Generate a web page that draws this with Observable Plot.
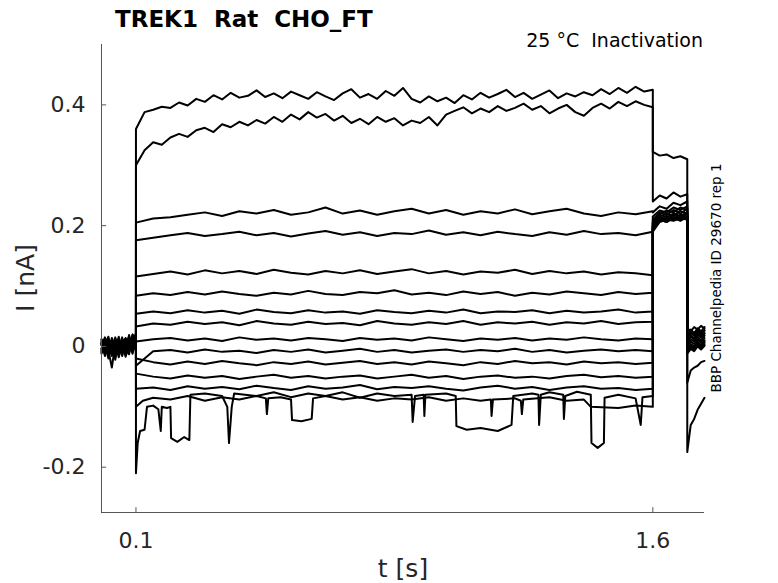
<!DOCTYPE html>
<html><head><meta charset="utf-8">
<script src="https://cdn.jsdelivr.net/npm/d3@7"></script>
<script src="https://cdn.jsdelivr.net/npm/@observablehq/plot@0.6"></script>
<style>body{margin:0;background:#fff;} #chart{width:778px;height:583px;}</style>
</head><body><div id="chart"></div>
<script>
// time grids (s)
const tPre = [0,0.01,0.02,0.03,0.04,0.05,0.06,0.07,0.08,0.09,0.1];
const tStepFine = [0.1,0.125,0.15,0.175,0.2,0.225,0.25,0.275,0.3,0.325,0.35,0.375,0.4,0.425,0.45,0.475,0.5,0.525,0.55,0.575,0.6,0.625,0.65,0.675,0.7,0.725,0.75,0.775,0.8,0.825,0.85,0.875,0.9,0.925,0.95,0.975,1.0,1.025,1.05,1.075,1.1,1.125,1.15,1.175,1.2,1.225,1.25,1.275,1.3,1.325,1.35,1.375,1.4,1.425,1.45,1.475,1.5,1.525,1.55,1.575,1.6];
const tStep = [0.1,0.15,0.2,0.25,0.3,0.35,0.4,0.45,0.5,0.55,0.6,0.65,0.7,0.75,0.8,0.85,0.9,0.95,1.0,1.05,1.1,1.15,1.2,1.25,1.3,1.35,1.4,1.45,1.5,1.55,1.6];
const tTest = [1.6,1.62,1.64,1.66,1.68,1.7];
const tPost = [1.7,1.71,1.72,1.73,1.74,1.75];

// currents (nA) at holding, before the step (15 sweeps)
const preI = [
 [0.005,-0.008,0.012,-0.004,0.009,-0.011,0.006,0.014,-0.002,0.018,0.008],
 [-0.006,0.01,-0.012,0.004,-0.015,0.007,-0.003,0.011,-0.009,0.02,0.012],
 [0.012,-0.003,0.006,-0.014,0.002,0.013,-0.007,0.004,0.016,0.006,0.022],
 [-0.012,0.004,-0.02,0.008,-0.006,-0.013,0.01,-0.005,0.012,0.003,0.014],
 [0.002,0.015,-0.006,-0.035,0.004,-0.009,0.012,-0.014,0.007,0.015,0.01],
 [0.009,-0.013,0.003,0.01,-0.017,0.005,-0.011,0.008,-0.004,0.012,0.005],
 [-0.003,0.006,-0.009,0.014,0.001,-0.006,0.015,-0.01,0.019,-0.002,0.016],
 [0.007,-0.016,0.011,-0.005,0.013,0.002,-0.014,0.006,-0.008,0.01,-0.004],
 [-0.01,0.003,0.016,-0.008,0.006,-0.018,0.004,0.013,0.001,0.008,0.011],
 [0.004,-0.005,-0.012,0.009,-0.022,0.011,-0.002,-0.012,0.014,-0.006,0.004],
 [0.011,0.006,-0.004,-0.011,0.008,-0.003,0.009,-0.006,-0.013,0.011,-0.002],
 [-0.008,0.013,0.005,0.002,-0.01,0.016,-0.008,0.003,0.009,-0.009,0.007],
 [0.003,-0.011,0.009,-0.016,0.011,-0.005,0.005,-0.017,0.005,0.014,0.013],
 [-0.004,0.008,-0.015,0.006,-0.003,0.009,-0.016,0.01,-0.006,0.004,-0.006],
 [0.006,-0.002,0.002,-0.01,0.015,-0.014,0.003,0.001,0.011,-0.012,0.009]
];

// sweeps 1-2 during the conditioning step (on tStepFine)
const stepTopI = [
 [0.36,0.388,0.392,0.397,0.395,0.404,0.399,0.41,0.405,0.416,0.409,0.42,0.412,0.415,0.424,0.413,0.419,0.411,0.422,0.416,0.41,0.421,0.414,0.408,0.419,0.426,0.412,0.418,0.41,0.423,0.415,0.428,0.41,0.404,0.414,0.406,0.412,0.403,0.416,0.409,0.42,0.412,0.418,0.425,0.413,0.42,0.41,0.417,0.424,0.411,0.419,0.414,0.421,0.416,0.426,0.418,0.428,0.42,0.43,0.422,0.425],
 [0.3,0.325,0.338,0.334,0.346,0.352,0.347,0.358,0.362,0.355,0.368,0.363,0.372,0.366,0.375,0.369,0.38,0.372,0.384,0.376,0.388,0.379,0.385,0.374,0.382,0.37,0.377,0.368,0.38,0.372,0.378,0.366,0.374,0.37,0.38,0.366,0.384,0.39,0.396,0.386,0.394,0.388,0.398,0.39,0.395,0.402,0.392,0.398,0.386,0.394,0.4,0.388,0.382,0.395,0.402,0.394,0.405,0.398,0.406,0.4,0.396]
];

// sweeps 3-13 during the conditioning step (on tStep)
const stepI = [
 [0.205,0.212,0.214,0.218,0.222,0.216,0.224,0.22,0.226,0.218,0.222,0.23,0.22,0.225,0.218,0.224,0.228,0.22,0.226,0.218,0.224,0.22,0.227,0.219,0.224,0.228,0.22,0.216,0.222,0.219,0.224],
 [0.176,0.18,0.184,0.188,0.183,0.186,0.19,0.184,0.188,0.182,0.187,0.191,0.185,0.189,0.183,0.188,0.186,0.192,0.185,0.189,0.184,0.19,0.186,0.183,0.189,0.185,0.191,0.186,0.188,0.184,0.19],
 [0.116,0.12,0.124,0.119,0.126,0.121,0.125,0.12,0.127,0.122,0.119,0.125,0.121,0.126,0.12,0.124,0.128,0.121,0.125,0.119,0.124,0.122,0.127,0.12,0.125,0.121,0.124,0.119,0.123,0.121,0.118],
 [0.084,0.088,0.085,0.09,0.086,0.091,0.087,0.084,0.089,0.086,0.092,0.087,0.085,0.09,0.088,0.093,0.086,0.089,0.085,0.091,0.087,0.09,0.084,0.089,0.086,0.091,0.088,0.085,0.09,0.087,0.089],
 [0.054,0.058,0.055,0.06,0.056,0.059,0.054,0.061,0.057,0.055,0.06,0.056,0.058,0.054,0.06,0.057,0.055,0.059,0.056,0.061,0.055,0.058,0.057,0.06,0.055,0.059,0.056,0.058,0.061,0.056,0.058],
 [0.033,0.038,0.036,0.041,0.037,0.04,0.035,0.042,0.038,0.036,0.041,0.037,0.039,0.035,0.042,0.038,0.036,0.04,0.037,0.042,0.036,0.04,0.038,0.041,0.036,0.04,0.038,0.042,0.037,0.04,0.041],
 [0.008,0.012,0.014,0.01,0.013,0.009,0.015,0.011,0.013,0.01,0.014,0.012,0.009,0.014,0.011,0.013,0.01,0.015,0.012,0.009,0.013,0.011,0.014,0.01,0.013,0.011,0.015,0.012,0.01,0.013,0.012],
 [-0.032,-0.008,-0.006,-0.01,-0.005,-0.009,-0.007,-0.011,-0.006,-0.009,-0.005,-0.01,-0.007,-0.004,-0.009,-0.006,-0.01,-0.007,-0.005,-0.009,-0.006,-0.008,-0.004,-0.009,-0.006,-0.01,-0.007,-0.005,-0.008,-0.006,-0.008],
 [-0.02,-0.026,-0.03,-0.025,-0.029,-0.024,-0.028,-0.031,-0.026,-0.029,-0.025,-0.03,-0.027,-0.024,-0.029,-0.026,-0.03,-0.025,-0.028,-0.031,-0.026,-0.029,-0.024,-0.028,-0.026,-0.03,-0.025,-0.028,-0.026,-0.029,-0.027],
 [-0.045,-0.05,-0.053,-0.048,-0.052,-0.049,-0.054,-0.05,-0.047,-0.052,-0.049,-0.053,-0.05,-0.048,-0.053,-0.05,-0.047,-0.052,-0.049,-0.054,-0.05,-0.048,-0.052,-0.05,-0.053,-0.049,-0.047,-0.051,-0.049,-0.052,-0.05],
 [-0.07,-0.068,-0.072,-0.066,-0.07,-0.067,-0.071,-0.065,-0.069,-0.072,-0.066,-0.07,-0.068,-0.064,-0.071,-0.067,-0.069,-0.066,-0.07,-0.073,-0.068,-0.065,-0.07,-0.067,-0.072,-0.068,-0.066,-0.07,-0.069,-0.072,-0.07]
];

// sweeps 14 and 15 during the step, with their downward jumps: [t, I]
const stepSweep14 = [[0.1,-0.1],[0.12,-0.09],[0.15,-0.085],[0.2,-0.088],[0.25,-0.082],[0.3,-0.09],[0.35,-0.084],[0.4,-0.088],[0.45,-0.082],[0.477,-0.086],[0.48,-0.112],[0.484,-0.086],[0.52,-0.084],[0.55,-0.088],[0.553,-0.122],[0.58,-0.124],[0.61,-0.12],[0.614,-0.086],[0.65,-0.082],[0.7,-0.088],[0.75,-0.084],[0.8,-0.09],[0.85,-0.086],[0.9,-0.088],[0.95,-0.084],[1.0,-0.09],[1.05,-0.086],[1.1,-0.09],[1.13,-0.088],[1.132,-0.115],[1.136,-0.088],[1.2,-0.086],[1.217,-0.09],[1.22,-0.112],[1.224,-0.088],[1.3,-0.084],[1.35,-0.09],[1.4,-0.088],[1.42,-0.1],[1.5,-0.102],[1.55,-0.098],[1.6,-0.1]];
const stepSweep15 = [[0.1,-0.21],[0.105,-0.16],[0.112,-0.14],[0.125,-0.138],[0.132,-0.1],[0.15,-0.098],[0.165,-0.104],[0.172,-0.14],[0.175,-0.1],[0.19,-0.102],[0.2,-0.1],[0.202,-0.152],[0.22,-0.158],[0.24,-0.15],[0.255,-0.155],[0.258,-0.08],[0.3,-0.078],[0.35,-0.082],[0.365,-0.1],[0.37,-0.16],[0.378,-0.1],[0.385,-0.078],[0.45,-0.082],[0.5,-0.076],[0.55,-0.084],[0.6,-0.078],[0.65,-0.082],[0.7,-0.076],[0.75,-0.085],[0.8,-0.078],[0.85,-0.082],[0.9,-0.08],[0.903,-0.125],[0.91,-0.082],[0.935,-0.08],[0.937,-0.115],[0.94,-0.08],[1.0,-0.078],[1.028,-0.082],[1.03,-0.132],[1.06,-0.138],[1.1,-0.135],[1.15,-0.14],[1.19,-0.13],[1.195,-0.082],[1.25,-0.078],[1.268,-0.08],[1.27,-0.13],[1.275,-0.08],[1.3,-0.076],[1.34,-0.08],[1.342,-0.12],[1.346,-0.082],[1.38,-0.075],[1.42,-0.08],[1.422,-0.16],[1.44,-0.168],[1.458,-0.16],[1.46,-0.085],[1.5,-0.08],[1.55,-0.086],[1.565,-0.13],[1.57,-0.084],[1.6,-0.082]];

// test pulse currents (nA) on tTest
const testI = [
 [0.322,0.316,0.318,0.312,0.315,0.31],
 [0.24,0.25,0.245,0.255,0.248,0.252],
 [0.222,0.232,0.228,0.238,0.234,0.24],
 [0.215,0.225,0.222,0.23,0.226,0.232],
 [0.21,0.222,0.218,0.226,0.22,0.228],
 [0.205,0.218,0.214,0.22,0.216,0.222],
 [0.2,0.214,0.21,0.218,0.213,0.219],
 [0.198,0.212,0.208,0.215,0.21,0.217],
 [0.196,0.21,0.206,0.213,0.208,0.215],
 [0.194,0.208,0.212,0.21,0.214,0.212],
 [0.19,0.206,0.21,0.208,0.212,0.21],
 [0.192,0.21,0.206,0.214,0.209,0.216],
 [0.195,0.212,0.216,0.21,0.218,0.214],
 [0.2,0.215,0.22,0.217,0.224,0.22],
 [0.205,0.22,0.225,0.222,0.23,0.226]
];

// currents (nA) after return to holding, on tPost
const postI = [
 [0.03,0.025,0.032,0.028,0.034,0.03],
 [0.02,0.028,0.022,0.03,0.025,0.032],
 [0.012,0.022,0.018,0.026,0.02,0.027],
 [0.008,0.016,0.012,0.02,0.015,0.022],
 [0.004,0.012,0.008,0.016,0.01,0.018],
 [0.0,0.008,0.004,0.012,0.006,0.014],
 [-0.004,0.004,0.0,0.008,0.002,0.01],
 [-0.006,0.002,-0.002,0.006,0.0,0.008],
 [-0.008,0.0,-0.004,0.004,-0.002,0.006],
 [0.015,0.024,0.019,0.028,0.022,0.026],
 [0.01,0.018,0.014,0.022,0.017,0.021],
 [-0.01,-0.002,-0.006,0.002,-0.004,0.003],
 [-0.012,-0.004,-0.008,0.0,-0.005,0.001],
 [-0.06,-0.04,-0.035,-0.032,-0.026,-0.024],
 [-0.175,-0.13,-0.12,-0.105,-0.095,-0.085]
];

const xTicks = [0.1, 1.6];
const yTicks = [-0.2, 0, 0.2, 0.4];

const points = [];
for (let k = 0; k < 15; k++) {
  tPre.forEach((t, i) => points.push({trace: k, t, i: preI[k][i]}));
  if (k < 2) tStepFine.forEach((t, i) => points.push({trace: k, t, i: stepTopI[k][i]}));
  else if (k < 13) tStep.forEach((t, i) => points.push({trace: k, t, i: stepI[k - 2][i]}));
  else (k === 13 ? stepSweep14 : stepSweep15).forEach(([t, v]) => points.push({trace: k, t, i: v}));
  tTest.forEach((t, i) => points.push({trace: k, t, i: testI[k][i]}));
  tPost.forEach((t, i) => points.push({trace: k, t, i: postI[k][i]}));
}

const axisColor = "#555";
const plot = Plot.plot({
  width: 778, height: 583,
  marginLeft: 101, marginRight: 74, marginTop: 44, marginBottom: 71,
  x: {domain: [0, 1.75], axis: null},
  y: {domain: [-0.275, 0.5], axis: null},
  style: {fontFamily: "DejaVu Sans", background: "#fff"},
  marks: [
    Plot.line(points, {x: "t", y: "i", z: "trace", stroke: "#000", strokeWidth: 2}),
    Plot.ruleX([0], {stroke: axisColor}),
    Plot.ruleY([-0.275], {stroke: axisColor}),
    Plot.ruleY(yTicks, {y: d => d, x1: 0, x2: 0.015, stroke: axisColor}),
    Plot.ruleX(xTicks, {x: d => d, y1: -0.275, y2: -0.267, stroke: axisColor}),
    Plot.text(yTicks, {x: 0, y: d => d, text: d => String(d), dx: -16, textAnchor: "end", fontSize: 22, fill: "#262626"}),
    Plot.text(xTicks, {x: d => d, y: -0.275, text: d => String(d), dy: 28, fontSize: 22, fill: "#262626"})
  ]
});
document.getElementById("chart").appendChild(plot);

const svg = d3.select(plot);
svg.append("text").attr("x", 115).attr("y", 27).attr("text-anchor", "start").attr("font-family", "DejaVu Sans")
  .attr("font-weight", "bold").attr("font-size", 23).attr("fill", "#000")
  .style("white-space", "pre").text("TREK1  Rat  CHO_FT");
svg.append("text").attr("x", 703).attr("y", 47).attr("text-anchor", "end").attr("font-family", "DejaVu Sans")
  .attr("font-size", 19).attr("fill", "#000").style("white-space", "pre").text("25 °C  Inactivation");
svg.append("text").attr("transform", "translate(34,278) rotate(-90)").attr("text-anchor", "middle")
  .attr("font-family", "DejaVu Sans").attr("font-size", 25).attr("fill", "#262626").text("I [nA]");
svg.append("text").attr("x", 403).attr("y", 577).attr("text-anchor", "middle")
  .attr("font-family", "DejaVu Sans").attr("font-size", 25).attr("fill", "#262626").text("t [s]");
svg.append("text").attr("transform", "translate(721,278) rotate(-90)").attr("text-anchor", "middle")
  .attr("font-family", "DejaVu Sans").attr("font-size", 13.5).attr("fill", "#000").text("BBP Channelpedia ID 29670 rep 1");
</script>
</body></html>
